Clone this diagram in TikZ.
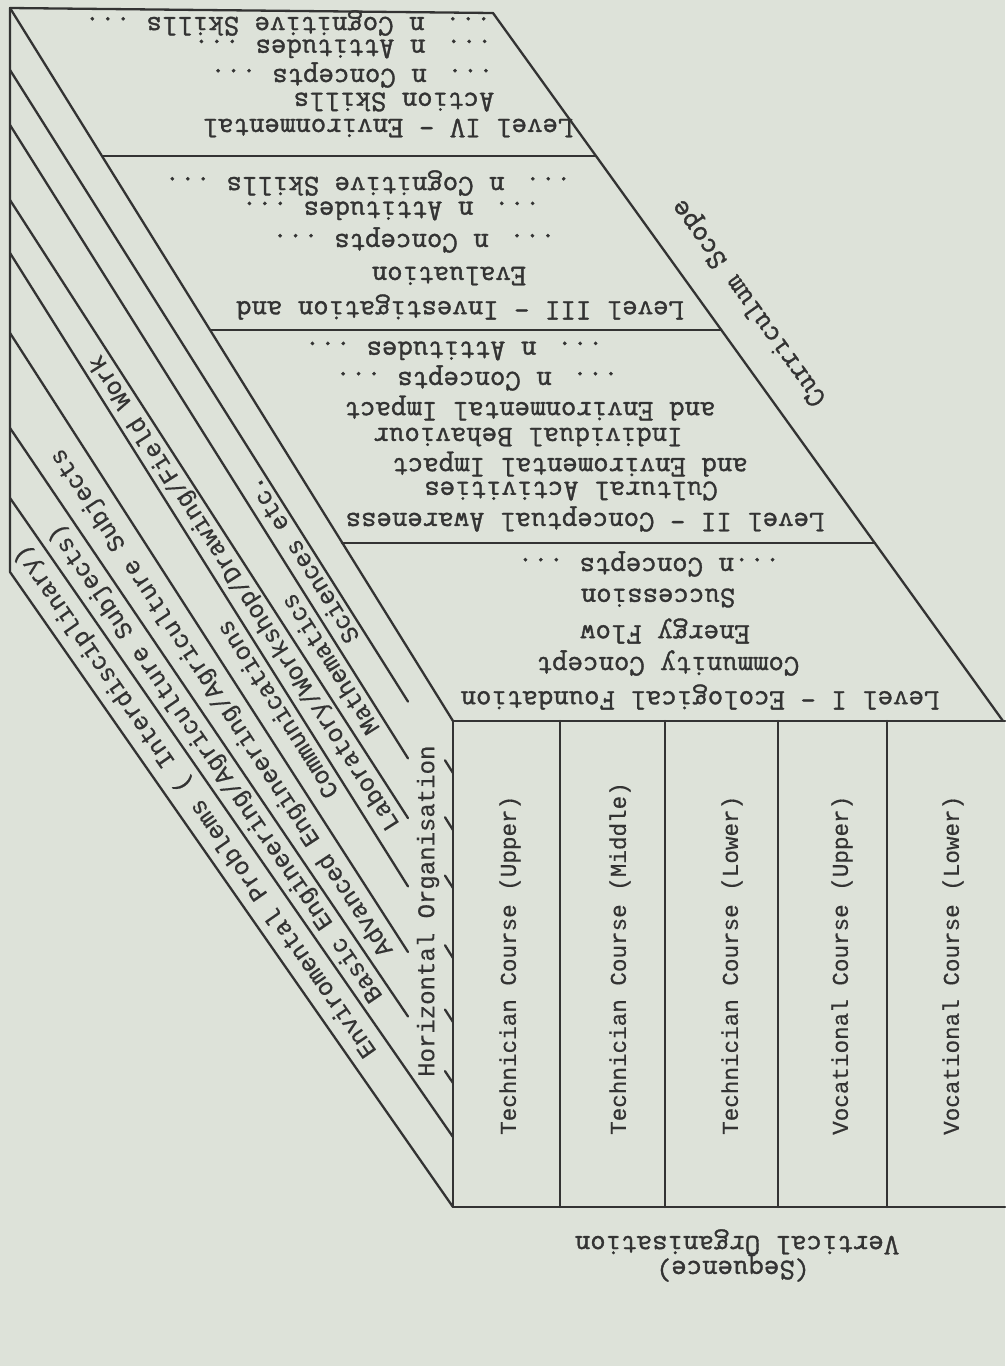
\documentclass[tikz,border=0pt]{standalone}
\usepackage{fontspec}
\usetikzlibrary{calc}
\newfontfamily\smono[FakeBold=0.4]{Liberation Mono}
\newfontfamily\cour[FakeBold=1.2]{Latin Modern Mono}
\definecolor{paper}{HTML}{DDE2D9}
\definecolor{ink}{HTML}{333333}
\begin{document}
\begin{tikzpicture}[x=1pt,y=-1pt,
  edge/.style={draw=ink,line width=2.3pt,line cap=round,line join=round},
  lvl/.style={font=\cour\fontsize{30}{30}\selectfont,text=ink,inner sep=0pt,rotate=180},
  big/.style={font=\cour\fontsize{30}{30}\selectfont,text=ink,inner sep=0pt},
  crs/.style={font=\smono\fontsize{22.6}{22.6}\selectfont,text=ink,inner sep=0pt,rotate=90,anchor=west},
  band/.style={font=\smono\fontsize{24.5}{24.5}\selectfont,text=ink,inner sep=0pt,anchor=west}]
\fill[paper] (0,0) rectangle (1005,1366);
\useasboundingbox (0,0) rectangle (1005,1366);
% corners
\coordinate (tl) at (10,8);
\coordinate (tr) at (493,13);
\coordinate (rf) at (1003,721);
\coordinate (fl) at (453,721);
\coordinate (frr) at (1005,721);
\coordinate (bl) at (453,1207);
\coordinate (br) at (1005,1207);
\coordinate (sbl) at (10,572);
% top face
\draw[edge] (tl) -- (tr) -- (rf);
\draw[edge] (tl) -- (fl);
\draw[edge] (fl) -- (frr);
% level dividers
\draw[edge] (342,543) -- (875,543);
\draw[edge] (210,330) -- (721,330);
\draw[edge] (102,156) -- (596,156);
% front face
\draw[edge] (fl) -- (bl) -- (br);
\foreach \x/\n in {560/a,665/b,778/c,887/d}{
  \coordinate (s\n t) at (\x,721);
  \coordinate (s\n b) at (\x,1207);
  \draw[edge] (s\n t) -- (s\n b);
}
% side face
\draw[edge] (tl) -- (sbl) -- (bl);
\coordinate (L1a) at (10,498); \coordinate (L1b) at (453,1137);
\draw[edge] (L1a) -- (L1b);
\foreach \yl/\yr/\n in {428/1083/2,333/1022/3,253/958/4,200/888/5,125/830/6,70/773/7}{
  \coordinate (L\n a) at (10,\yl);
  \coordinate (L\n b) at (453,\yr);
  \draw[edge] (L\n a) -- ($(L\n a)!0.8984!(L\n b)$);
  \draw[edge] ($(L\n a)!0.9819!(L\n b)$) -- (L\n b);
}
% level texts
\node[lvl] (l1a) at (700,697) {Level I - Ecological Foundation};
\node[lvl] (l1b) at (668,663) {Community Concept};
\node[lvl] (l1c) at (665,631) {Energy Flow};
\node[lvl] (l1d) at (658,598) {Succession};
\node[lvl] (l1e) at (649,564) {...n Concepts ...};
\node[lvl] (l2a) at (585,519) {Level II - Conceptual Awareness};
\node[lvl] (l2b) at (571,491) {Cultural Activities};
\node[lvl] (l2c) at (570,464) {and Enviromental Impact};
\node[lvl] (l2d) at (528,437) {Individual Behaviour};
\node[lvl] (l2e) at (530,408) {and Environmental Impact};
\node[lvl] (l2f) at (477,378) {... n Concepts ...};
\node[lvl] (l2g) at (454,351) {... n Attitudes ...};
\node[lvl] (l3a) at (460,307) {Level III - Investigation and};
\node[lvl] (l3b) at (449,276) {Evaluation};
\node[lvl] (l3c) at (414,240) {... n Concepts ...};
\node[lvl] (l3d) at (391,211) {... n Attitudes ...};
\node[lvl] (l3e) at (368,183) {... n Cognitive Skills ...};
\node[lvl] (l4a) at (388,128) {Level IV - Environmental};
\node[lvl] (l4b) at (394,102) {Action Skills};
\node[lvl] (l4c) at (352,75) {... n Concepts ...};
\node[lvl] (l4d) at (343,49) {... n Attitudes ...};
\node[lvl] (l4e) at (288,23) {... n Cognitive Skills ...};
\node[big,rotate=125.7] (scope) at (750,302) {Curriculum Scope};
% front texts
\node[crs] (c1) at (510,1135) {Technician Course (Upper)};
\node[crs] (c2) at (620,1135) {Technician Course (Middle)};
\node[crs] (c3) at (732,1135) {Technician Course (Lower)};
\node[crs] (c4) at (842,1135) {Vocational Course (Upper)};
\node[crs] (c5) at (953,1135) {Vocational Course (Lower)};
\node[crs,font=\smono\fontsize{24}{24}\selectfont] (horg) at (428,1077) {Horizontal Organisation};
\node[lvl] (vorg) at (737,1242) {Vertical Organisation};
\node[lvl] (vseq) at (733,1268) {(Sequence)};
% band texts
\node[band,rotate=124.8] (b1) at (372,1055) {Enviromental Problems ( Interdisciplinary)};
\node[band,rotate=124.4] (b2) at (378,1000) {Basic Engineering/Agriculture Subjects)};
\node[band,rotate=123.4] (b3) at (388,954) {Advanced Engineering/Agriculture Subjects};
\node[band,rotate=122.4] (b4) at (332,797) {Communications};
\node[band,rotate=122.5] (b5) at (395,828) {Laboratory/Workshop/Drawing/Field Work};
\node[band,rotate=122.5] (b6) at (373,733) {Mathematics};
\node[band,rotate=122.2] (b7) at (353,642) {Sciences etc.};
\end{tikzpicture}
\end{document}
